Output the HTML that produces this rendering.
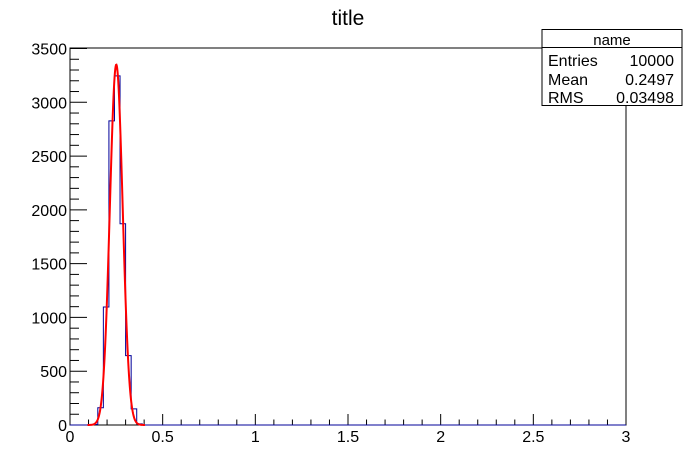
<!DOCTYPE html>
<html><head><meta charset="utf-8"><style>
body{margin:0;background:#fff;}
svg{display:block;font-family:"Liberation Sans",Arial,sans-serif;}
</style></head><body>
<svg id="c" width="696" height="472">
<rect width="696" height="472" fill="#fff"/>
<text x="348" y="25" style="font-size:21px" text-anchor="middle">title</text>
<g id="axes"></g>
<g id="marks"></g>
<g>
<rect x="542" y="29.5" width="140" height="76" fill="#fff" stroke="#000" stroke-width="1"/>
<line x1="542" y1="47.5" x2="682" y2="47.5" stroke="#000"/>
<text x="612" y="45" style="font-size:15px" text-anchor="middle">name</text>
<text x="548" y="66" style="font-size:16px">Entries</text>
<text x="674" y="66" style="font-size:16px" text-anchor="end">10000</text>
<text x="548" y="85" style="font-size:16px">Mean</text>
<text x="674" y="85" style="font-size:16px" text-anchor="end">0.2497</text>
<text x="548" y="103" style="font-size:16px">RMS</text>
<text x="674" y="103" style="font-size:16px" text-anchor="end">0.03498</text>
</g>
</svg>
<script>
const binEdgesStart = [0.12,0.15,0.18,0.21,0.24,0.27,0.30,0.33,0.36];
const binCounts = [5,160,1097,2827,3245,1871,645,150,10];
const binWidth = [0.03];
const fitParams = [3350,0.2497,0.0345];
const xTicks = [0,0.5,1,1.5,2,2.5,3];
const xTickLabels = ["0","0.5","1","1.5","2","2.5","3"];
const yTicks = [0,500,1000,1500,2000,2500,3000,3500];
const yTickLabels = ["0","500","1000","1500","2000","2500","3000","3500"];

const X0=70,X1=626,Y0=425,Y1=48;
const sx=v=>X0+(v-0)/3*(X1-X0);
const sy=v=>Y0-(v/3500)*(Y0-48.5);
const NS="http://www.w3.org/2000/svg";
const axes=document.getElementById('axes'),marks=document.getElementById('marks');
function mk(tag,attrs,parent){const e=document.createElementNS(NS,tag);for(const k in attrs)e.setAttribute(k,attrs[k]);parent.appendChild(e);return e;}

const frame=mk('rect',{x:X0,y:Y1,width:X1-X0,height:Y0-Y1,fill:'none',stroke:'#000','stroke-width':1},axes);



for(let i=0;i<=30;i++){const v=i*0.1;const x=sx(v);const major=i%5===0;
 const t=mk('line',{x1:x,y1:Y0,x2:x,y2:Y0-(major?11:5.5),stroke:'#000'},axes);
 
 }
xTicks.forEach((v,i)=>{const t=mk('text',{x:sx(v),y:442,style:'font-size:16px','text-anchor':'middle'},axes);t.textContent=xTickLabels[i];
 
 });
for(let i=0;i<=35;i++){const v=i*100;const y=sy(v);const major=i%5===0;
 const t=mk('line',{x1:X0,y1:y,x2:X0+(major?17:9),y2:y,stroke:'#000'},axes);
 
 }
yTicks.forEach((v,i)=>{const t=mk('text',{x:67,y:sy(v)+6,style:'font-size:16px','text-anchor':'end'},axes);t.textContent=yTickLabels[i];
 
 });

let d=`M${sx(0)},${Y0}`;
let prevY=Y0;
binEdgesStart.forEach((s,i)=>{const y=sy(binCounts[i]);d+=` L${sx(s)},${prevY} L${sx(s)},${y} L${sx(s+binWidth[0])},${y}`;prevY=y;});
d+=` L${sx(binEdgesStart[binEdgesStart.length-1]+binWidth[0])},${Y0} L${sx(3)},${Y0}`;
const h=mk('path',{d:d,fill:'none',stroke:'#000099','stroke-width':1},marks);



let fd='';const [A,mu,sg]=fitParams;
for(let v=mu-4.5*sg;v<=mu+4.5*sg;v+=0.002){const y=A*Math.exp(-0.5*((v-mu)/sg)**2);fd+=(fd?' L':'M')+sx(v).toFixed(2)+','+sy(y).toFixed(2);}
const f=mk('path',{d:fd,fill:'none',stroke:'#ff0000','stroke-width':2},marks);


</script>
</body></html>
